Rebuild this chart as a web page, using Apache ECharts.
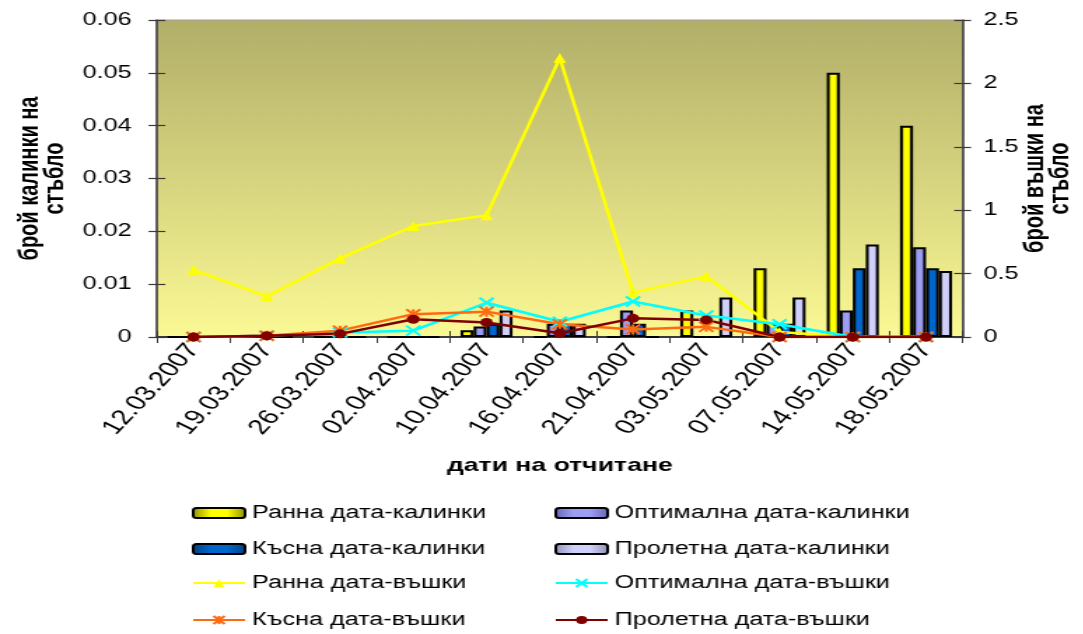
<!DOCTYPE html>
<html>
<head>
<meta charset="utf-8">
<script src="https://cdn.jsdelivr.net/npm/echarts@6/dist/echarts.min.js"></script>
<style>
  html, body { margin: 0; padding: 0; background: #ffffff; overflow: hidden; }
  /* the chart is laid out narrow and widened horizontally */
  #chart { width: 773.57px; height: 634px; transform: scaleX(1.4); transform-origin: 0 0; }
</style>
</head>
<body>
<div id="chart"></div>
<script>
// Observation dates
const categories = ['12.03.2007', '19.03.2007', '26.03.2007', '02.04.2007', '10.04.2007', '16.04.2007',
                    '21.04.2007', '03.05.2007', '07.05.2007', '14.05.2007', '18.05.2007'];

// Ladybirds per stem (left axis)
const earlyLadybirds   = [0, 0, 0, 0, 0.0013, 0, 0, 0.005, 0.013, 0.05, 0.04];
const optimalLadybirds = [0, 0, 0, 0, 0.002, 0.0025, 0.005, 0, 0.0025, 0.005, 0.017];
const lateLadybirds    = [0, 0, 0, 0, 0.0025, 0.0025, 0.0025, 0, 0.0025, 0.013, 0.013];
const springLadybirds  = [0, 0, 0, 0, 0.005, 0.0025, 0, 0.0075, 0.0075, 0.0175, 0.0125];

// Aphids per stem (right axis)
const earlyAphids   = [0.53, 0.32, 0.62, 0.875, 0.96, 2.2, 0.35, 0.48, 0.04, 0, 0];
const optimalAphids = [0, 0.01, 0.035, 0.05, 0.27, 0.12, 0.28, 0.17, 0.1, 0, 0];
const lateAphids    = [0, 0.01, 0.05, 0.18, 0.2, 0.1, 0.06, 0.08, 0, 0, 0];
const springAphids  = [0, 0.01, 0.025, 0.14, 0.115, 0.03, 0.147, 0.135, 0, 0, 0];

// Axis scales
const leftAxis  = { min: 0, max: 0.06, interval: 0.01 };
const rightAxis = { min: 0, max: 2.5, interval: 0.5 };

// Legend layout: two columns, four rows
const legendColumns = [
  ['Ранна дата-калинки', 'Късна дата-калинки', 'Ранна дата-въшки', 'Късна дата-въшки'],
  ['Оптимална дата-калинки', 'Пролетна дата-калинки', 'Оптимална дата-въшки', 'Пролетна дата-въшки']
];

const FONT = 'Liberation Sans, Arial, sans-serif';
const AXIS_COLOR = '#3a3a3a';

function shade(edge, mid) {
  return new echarts.graphic.LinearGradient(0, 0, 1, 0, [
    { offset: 0, color: edge },
    { offset: 0.35, color: mid },
    { offset: 0.65, color: mid },
    { offset: 1, color: edge }
  ]);
}

function barSeries(name, data, edge, mid) {
  return {
    name, type: 'bar', data, yAxisIndex: 0, xAxisIndex: 0,
    barGap: '0%', barCategoryGap: '29%',
    itemStyle: { color: shade(edge, mid), borderColor: '#000000', borderWidth: 2 },
    z: 2
  };
}

function lineSeries(name, data, color, symbol, size, hollow) {
  return {
    name, type: 'line', data, yAxisIndex: 1, xAxisIndex: 0,
    symbol, symbolSize: size, showAllSymbol: true,
    lineStyle: { color, width: 2.5 },
    itemStyle: hollow ? { color: 'rgba(0,0,0,0)', borderColor: color, borderWidth: 2 } : { color, borderWidth: 0 },
    z: 5
  };
}

const crossPath = 'path://M0,0L10,10M10,0L0,10';
const starPath = 'path://M5,0L5,10M0,0L10,10M10,0L0,10';

const chart = echarts.init(document.getElementById('chart'), null, { renderer: 'canvas' });

const valueAxisBase = {
  type: 'value',
  splitLine: { show: false },
  axisLine: { show: true, lineStyle: { color: AXIS_COLOR, width: 1.5 } },
  axisTick: { show: true, inside: false, length: 6, lineStyle: { color: AXIS_COLOR, width: 1.2 } },
  axisLabel: { color: '#000', fontFamily: FONT, fontSize: 18 },
  nameMoveOverlap: false
};

const tickOnly = (pos, range) => ({
  type: 'value', position: pos, min: range.min, max: range.max, interval: range.interval,
  splitLine: { show: false }, axisLine: { show: false }, axisLabel: { show: false },
  axisTick: { show: true, inside: true, length: 6, lineStyle: { color: AXIS_COLOR, width: 1.2 } }
});

const colLeft = [137, 396];
const rowTop = [503, 539, 573, 610];
const legends = [];
legendColumns.forEach((col, c) => {
  col.forEach((name, r) => {
    legends.push({
      orient: 'horizontal', left: colLeft[c], top: rowTop[r], padding: 0,
      itemWidth: 37, itemHeight: 10,
      textStyle: { color: '#000', fontFamily: FONT, fontSize: 18, lineHeight: 20 },
      data: [name]
    });
  });
});

chart.setOption({
  animation: false,
  backgroundColor: '#ffffff',
  grid: {
    left: 112.1, right: 86.4, top: 20, bottom: 297,
    outerBoundsMode: 'none',
    show: true,
    borderColor: '#a0a0a0', borderWidth: 1,
    backgroundColor: new echarts.graphic.LinearGradient(0, 0, 0, 1, [
      { offset: 0, color: '#b1ae69' },
      { offset: 1, color: '#fbf994' }
    ])
  },
  xAxis: [
    {
      type: 'category', data: categories, position: 'bottom',
      axisLine: { show: true, onZero: false, lineStyle: { color: AXIS_COLOR, width: 2 } },
      axisTick: { show: true, inside: false, length: 6, lineStyle: { color: AXIS_COLOR, width: 1 } },
      axisLabel: { interval: 0, rotate: 55, margin: 9, color: '#000', fontFamily: FONT, fontSize: 21 },
      name: 'дати на отчитане', nameLocation: 'middle', nameGap: 119, nameMoveOverlap: false,
      nameTextStyle: { color: '#000', fontFamily: FONT, fontSize: 19, fontWeight: 'bold' }
    },
    {
      type: 'category', data: categories, position: 'bottom',
      axisLine: { show: false }, axisLabel: { show: false },
      axisTick: { show: true, inside: true, length: 6, lineStyle: { color: AXIS_COLOR, width: 1 } }
    }
  ],
  yAxis: [
    Object.assign({}, valueAxisBase, {
      position: 'left', min: leftAxis.min, max: leftAxis.max, interval: leftAxis.interval,
      axisLabel: Object.assign({}, valueAxisBase.axisLabel, { margin: 18 }),
      name: 'брой калинки на\nстъбло', nameLocation: 'middle', nameGap: 64, nameRotate: 90,
      nameTextStyle: { color: '#000', fontFamily: FONT, fontSize: 20, fontWeight: 'bold', lineHeight: 18 }
    }),
    Object.assign({}, valueAxisBase, {
      position: 'right', min: rightAxis.min, max: rightAxis.max, interval: rightAxis.interval,
      axisLabel: Object.assign({}, valueAxisBase.axisLabel, { margin: 15 }),
      name: 'брой въшки на\nстъбло', nameLocation: 'middle', nameGap: 43, nameRotate: 90,
      nameTextStyle: { color: '#000', fontFamily: FONT, fontSize: 20, fontWeight: 'bold', lineHeight: 18 }
    }),
    tickOnly('left', leftAxis),
    tickOnly('right', rightAxis)
  ],
  legend: legends,
  series: [
    barSeries('Ранна дата-калинки', earlyLadybirds, '#8a8a00', '#ffff00'),
    barSeries('Оптимална дата-калинки', optimalLadybirds, '#6666b8', '#9d9df2'),
    barSeries('Късна дата-калинки', lateLadybirds, '#003f80', '#0066cc'),
    barSeries('Пролетна дата-калинки', springLadybirds, '#8f8fb8', '#d0d0fa'),
    lineSeries('Ранна дата-въшки', earlyAphids, '#ffff00', 'triangle', [9, 10], false),
    lineSeries('Оптимална дата-въшки', optimalAphids, '#00ffff', crossPath, [10, 10], true),
    lineSeries('Късна дата-въшки', lateAphids, '#ff6a10', starPath, [10, 10], true),
    lineSeries('Пролетна дата-въшки', springAphids, '#800000', 'circle', 9, false)
  ]
});
</script>
</body>
</html>
